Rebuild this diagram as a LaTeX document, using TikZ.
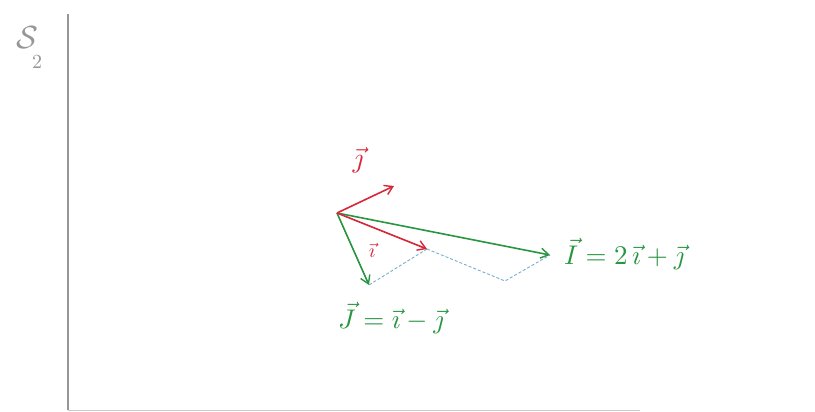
\documentclass[tikz,border=0pt]{standalone}
\usetikzlibrary{arrows.meta}
\definecolor{penred}{RGB}{214,40,58}
\definecolor{pengreen}{RGB}{40,150,65}
\definecolor{penblue}{RGB}{120,175,205}
\definecolor{pengray}{RGB}{150,150,150}
\tikzset{
  vec/.style={line width=1.6pt, -{Straight Barb[length=8pt,width=10pt,line width=1.4pt]}},
  redvec/.style={vec, draw=penred},
  greenvec/.style={vec, draw=pengreen},
  helper/.style={draw=penblue, line width=0.9pt, dash pattern=on 3pt off 2pt},
  lbl/.style={inner sep=0pt},
  frame/.style={draw=pengray, line width=1.5pt},
}
\begin{document}
\begin{tikzpicture}[x=1pt,y=-1pt]
\useasboundingbox (0,0) rectangle (815,412);
\fill[white] (0,0) rectangle (815,412);
% page frame
\coordinate (ftop) at (68,14);
\coordinate (fcorner) at (68,410);
\coordinate (fright) at (640,410);
\draw[frame] (ftop) -- (fcorner);
\draw[draw=pengray!50, line width=1pt] (fcorner) -- (fright);
% page mark
\node[text=pengray, inner sep=0pt] (mark) at (27,38) {\scalebox{3.2}{$\mathcal{S}$}};
\node[text=pengray, inner sep=0pt] (mark2) at (37,62) {\scalebox{2}{$2$}};
% vectors
\coordinate (O) at (337,213);
\coordinate (jt) at (394,186);
\coordinate (it) at (427,249);
\coordinate (It) at (550,255);
\coordinate (Jt) at (369,285);
\coordinate (P) at (505,281);
% helper dashed lines
\draw[helper] (it) -- (Jt);
\draw[helper] (it) -- (P) -- (It);
\draw[greenvec] (O) -- (It);
\draw[greenvec] (O) -- (Jt);
\draw[redvec] (O) -- (jt);
\draw[redvec] (O) -- (it);
% labels
\node[lbl, text=penred] (jl) at (358,160) {\scalebox{2.8}{$\vec{\jmath}$}};
\node[lbl, text=penred] (il) at (372,250) {\scalebox{2}{$\vec{\imath}$}};
\node[lbl, text=pengreen, anchor=west] (Il) at (564,254) {\scalebox{2.7}{$\vec{I}=2\,\vec{\imath}+\vec{\jmath}$}};
\node[lbl, text=pengreen, anchor=west] (Jl) at (338,318) {\scalebox{2.7}{$\vec{J}=\vec{\imath}-\vec{\jmath}$}};
\end{tikzpicture}
\end{document}
